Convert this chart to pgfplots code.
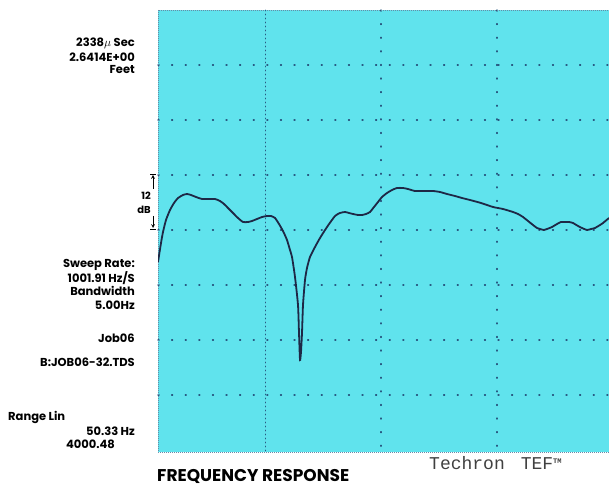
\documentclass[border=0pt]{standalone}
\usepackage{pgfplots}
\pgfplotsset{compat=1.18}
\usepackage{fontspec}
\setmainfont{Poppins}
\newfontfamily\monof{Liberation Mono}
\definecolor{scope}{RGB}{96,227,237}
\definecolor{trace}{RGB}{30,40,70}
\definecolor{gridc}{RGB}{40,90,130}
\begin{document}
\begin{tikzpicture}[x=1pt,y=1pt]
\path[use as bounding box] (0,0) rectangle (609,486);
\begin{axis}[
  at={(158pt,34pt)}, anchor=south west,
  scale only axis, width=451pt, height=442pt,
  xmin=158, xmax=609, ymin=10, ymax=452, y dir=reverse,
  axis background/.style={fill=scope},
  axis line style={draw=gridc!70, line width=0.6pt, dash pattern=on 0.8pt off 1.2pt},
  xtick={381,497}, ytick={65,120,175,230,285,340,395},
  extra x ticks={265},
  extra x tick style={grid=major, major grid style={gridc, line width=0.9pt, dash pattern=on 1pt off 3pt}},
  xticklabels={}, yticklabels={}, extra x tick labels={},
  major tick length=0pt,
  grid=major,
  major grid style={gridc, line width=1.1pt, dash pattern=on 1.1pt off 12.5pt, line cap=round},
  clip=true,
]
\addplot[trace, line width=1.8pt, smooth, tension=0.35] coordinates {
(158,262)(161,243)(163,232)(166,220)(170,210)(174,203)(178,198)(183,195)(187,194)(191,195)
(196,197)(202,199)(209,199)(215,199)(220,201)(224,204)(228,208)(233,213)(238,218)(243,222)
(248,222)(252,221)(257,219)(262,217)(267,216)(271,216)(275,218)(279,224)(283,231)(287,240)
(290,250)(292,257)(295,277)(298,305)(299,333)(300,360)(301,352)(302,333)(303,305)(305,280)
(307,268)(310,257)(315,247)(320,238)(327,227)(335,216)(340,213)(345,212)(349,213)(353,214)
(358,215)(362,215)(366,214)(370,212)(374,207)(378,202)(382,197)(387,193)(392,190)(397,188)
(403,188)(408,189)(415,191)(424,191)(433,191)(440,192)(447,194)(455,196)(462,198)(470,200)
(481,203)(493,207)(503,209)(513,212)(518,214)(523,217)(528,221)(533,225)(537,228)(540,229)
(544,230)(547,229)(552,227)(557,224)(561,222)(565,222)(569,222)(573,223)(578,226)(582,228)
(587,230)(591,229)(595,228)(600,225)(603,223)(609,218)};
\end{axis}
\begin{scope}[every node/.style={font=\bfseries\fontsize{11.5}{12}\selectfont, inner sep=0pt, anchor=east}]
\node at (135,486-43) {2338$\mu$ Sec};
\node at (135,486-57) {2.6414E+00};
\node at (135,486-70) {Feet};
\node at (135,486-265) {Sweep Rate:};
\node at (135,486-278) {1001.91 Hz/S};
\node at (135,486-291) {Bandwidth};
\node at (135,486-305) {5.00Hz};
\node at (135,486-338) {Job06};
\node at (135,486-362) {B:JOB06-32.TDS};
\node[anchor=west] at (8,486-417) {Range Lin};
\node at (135,486-431) {50.33 Hz};
\node at (115,486-444) {4000.48};
\node[anchor=east, font=\bfseries\fontsize{10}{11}\selectfont] at (151,486-196) {12};
\node[anchor=east, font=\bfseries\fontsize{10}{11}\selectfont] at (151,486-210) {dB};
\end{scope}
\draw[line width=0.7pt] (150,486-174) -- (156,486-174);
\draw[line width=0.7pt,-stealth] (153,486-189) -- (153,486-175);
\draw[line width=0.7pt] (150,486-229) -- (156,486-229);
\draw[line width=0.7pt,-stealth] (153,486-216) -- (153,486-228);
\node[anchor=west, inner sep=0pt, font=\bfseries\fontsize{17}{18}\selectfont] at (157,486-476) {FREQUENCY RESPONSE};
\node[anchor=west, inner sep=0pt, text=black!75, font=\monof\fontsize{18}{19}\selectfont] at (429,486-463) {Techron\hspace{16pt}TEF\raisebox{0.6ex}{\fontsize{7}{7}\selectfont\bfseries TM}};
\end{tikzpicture}
\end{document}
